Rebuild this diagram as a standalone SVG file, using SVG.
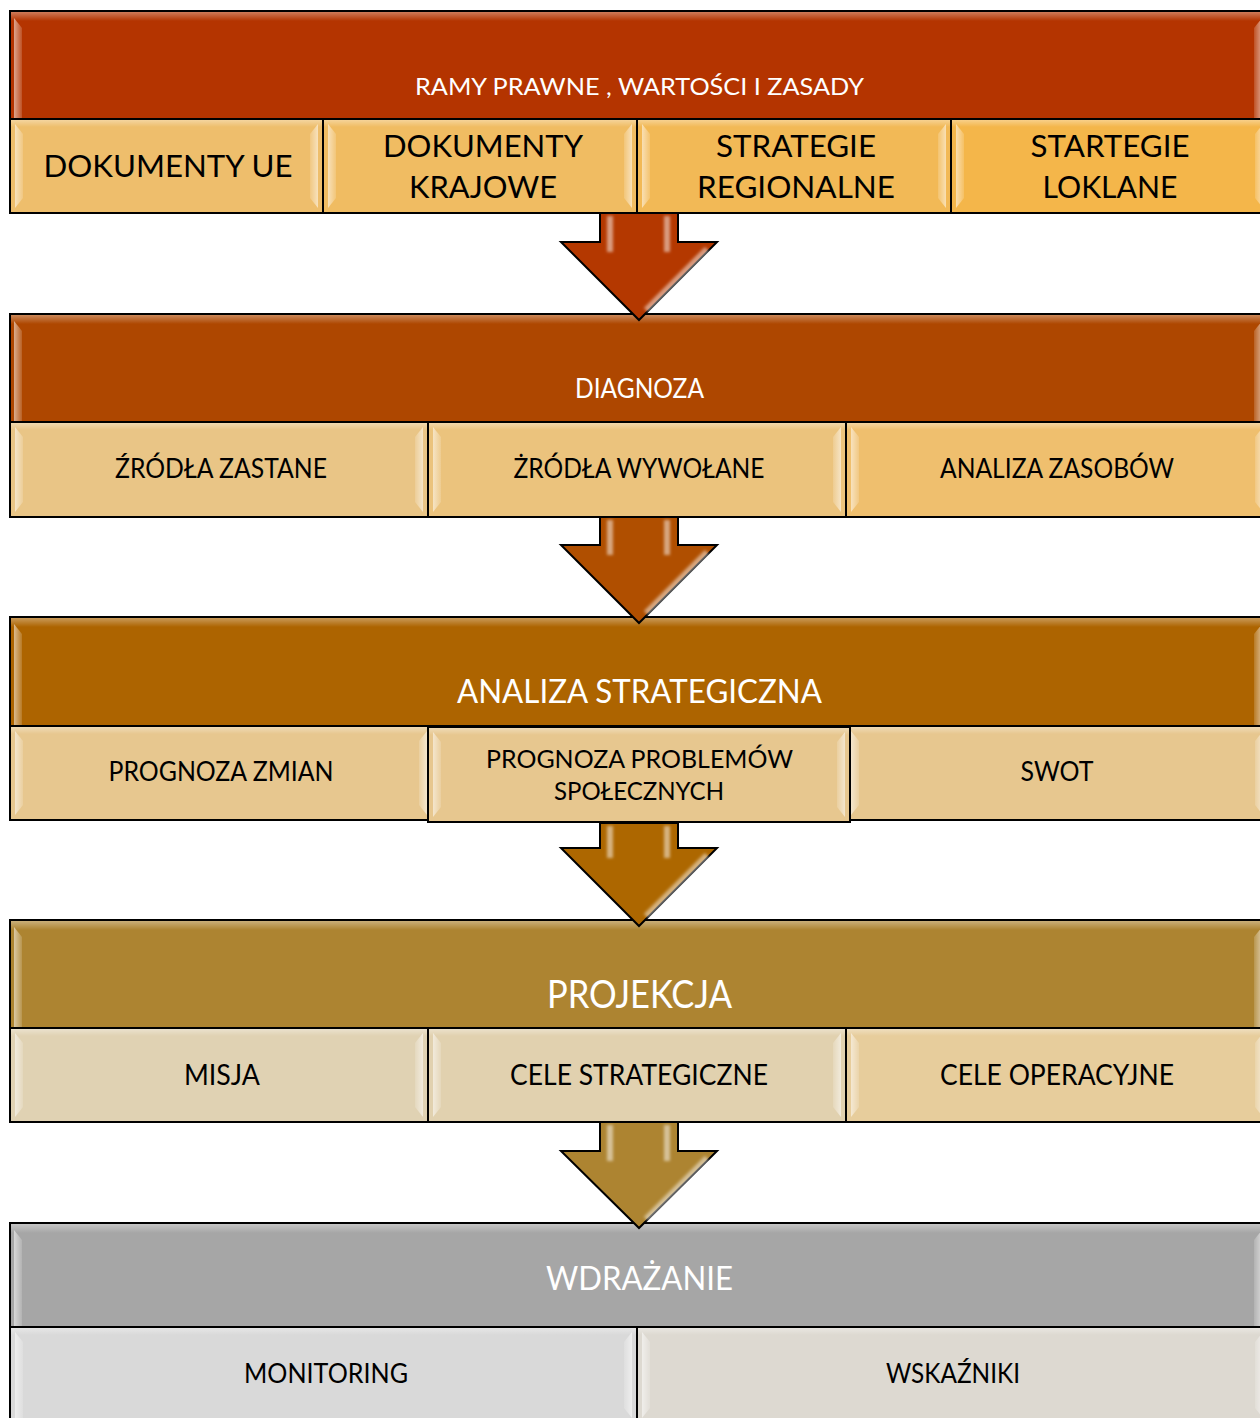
<svg xmlns="http://www.w3.org/2000/svg" width="1260" height="1418" viewBox="0 0 1260 1418">
<style>
text{font-family:Lato,"Open Sans","Liberation Sans",sans-serif;text-anchor:middle}
.hd{fill:#fff}
.sb{fill:#000}
.box{stroke:#000;stroke-width:2}
.hl{fill:url(#hlg)}
.hlr{fill:url(#hlgr)}
.top{fill:url(#topg)}
.arr{stroke:#000;stroke-width:2;stroke-linejoin:miter}
.ash{stroke:#fff;stroke-opacity:.5;stroke-width:6;fill:none;filter:url(#bl)}
</style>
<defs>
<linearGradient id="hlg" x1="0" y1="0" x2="1" y2="0">
<stop offset="0" stop-color="#fff" stop-opacity=".55"/>
<stop offset="1" stop-color="#fff" stop-opacity=".15"/>
</linearGradient>
<linearGradient id="hlgr" x1="1" y1="0" x2="0" y2="0">
<stop offset="0" stop-color="#fff" stop-opacity=".55"/>
<stop offset="1" stop-color="#fff" stop-opacity=".15"/>
</linearGradient>
<linearGradient id="topg" x1="0" y1="0" x2="0" y2="1">
<stop offset="0" stop-color="#fff" stop-opacity=".35"/>
<stop offset="1" stop-color="#fff" stop-opacity="0"/>
</linearGradient>
<filter id="bl" filterUnits="userSpaceOnUse" x="0" y="0" width="1260" height="1418"><feGaussianBlur stdDeviation="1.8"/></filter>
</defs>

<!-- Block 1 -->
<g id="ramy">
<rect class="box" x="10" y="11" width="1258" height="108" fill="#B43400"/>
<rect class="top" x="11" y="12" width="1256" height="9"/>
<polygon class="hl" points="14,18 22,28 22,118 14,118"/>
<polygon class="hlr" points="1262,18 1254,28 1254,118 1262,118"/>
<text class="hd" x="639.5" y="95" font-size="24" textLength="449" lengthAdjust="spacingAndGlyphs">RAMY PRAWNE , WARTOŚCI I ZASADY</text>
</g>
<g id="dok-ue">
<rect class="box" x="10" y="119" width="313" height="94" fill="#EEBE6C"/>
<rect class="top" x="11" y="120" width="311" height="7"/>
<polygon class="hl" points="15,124 23,134 23,198 15,208"/>
<polygon class="hlr" points="318,124 310,134 310,198 318,208"/>
<text class="sb" x="168" y="177" font-size="30" textLength="249" lengthAdjust="spacingAndGlyphs">DOKUMENTY UE</text>
</g>
<g id="dok-kraj">
<rect class="box" x="323" y="119" width="314" height="94" fill="#F0BC62"/>
<rect class="top" x="324" y="120" width="312" height="7"/>
<polygon class="hl" points="328,124 336,134 336,198 328,208"/>
<polygon class="hlr" points="632,124 624,134 624,198 632,208"/>
<text class="sb" x="483" y="157" font-size="31" textLength="200" lengthAdjust="spacingAndGlyphs">DOKUMENTY</text>
<text class="sb" x="483" y="198" font-size="31" textLength="148" lengthAdjust="spacingAndGlyphs">KRAJOWE</text>
</g>
<g id="str-reg">
<rect class="box" x="637" y="119" width="314" height="94" fill="#F2B956"/>
<rect class="top" x="638" y="120" width="312" height="7"/>
<polygon class="hl" points="642,124 650,134 650,198 642,208"/>
<polygon class="hlr" points="946,124 938,134 938,198 946,208"/>
<text class="sb" x="796" y="157" font-size="31" textLength="160" lengthAdjust="spacingAndGlyphs">STRATEGIE</text>
<text class="sb" x="796" y="198" font-size="31" textLength="198" lengthAdjust="spacingAndGlyphs">REGIONALNE</text>
</g>
<g id="str-lok">
<rect class="box" x="951" y="119" width="317" height="94" fill="#F4B64A"/>
<rect class="top" x="952" y="120" width="315" height="7"/>
<polygon class="hl" points="956,124 964,134 964,198 956,208"/>
<polygon class="hlr" points="1263,124 1255,134 1255,198 1263,208"/>
<text class="sb" x="1110" y="157" font-size="31" textLength="159" lengthAdjust="spacingAndGlyphs">STARTEGIE</text>
<text class="sb" x="1110" y="198" font-size="31" textLength="135" lengthAdjust="spacingAndGlyphs">LOKLANE</text>
</g>

<!-- Block 2 -->
<g id="diagnoza">
<rect class="box" x="10" y="314" width="1258" height="108" fill="#AE4700"/>
<rect class="top" x="11" y="315" width="1256" height="9"/>
<polygon class="hl" points="14,321 22,331 22,421 14,421"/>
<polygon class="hlr" points="1262,321 1254,331 1254,421 1262,421"/>
<text class="hd" x="639.5" y="398" font-size="26" textLength="129" lengthAdjust="spacingAndGlyphs">DIAGNOZA</text>
</g>
<g id="zr-zast">
<rect class="box" x="10" y="422" width="418" height="95" fill="#E9C586"/>
<rect class="top" x="11" y="423" width="416" height="7"/>
<polygon class="hl" points="15,427 23,437 23,502 15,512"/>
<polygon class="hlr" points="423,427 415,437 415,502 423,512"/>
<text class="sb" x="221" y="478" font-size="26" textLength="212" lengthAdjust="spacingAndGlyphs">ŹRÓDŁA ZASTANE</text>
</g>
<g id="zr-wyw">
<rect class="box" x="428" y="422" width="418" height="95" fill="#EBC37D"/>
<rect class="top" x="429" y="423" width="416" height="7"/>
<polygon class="hl" points="433,427 441,437 441,502 433,512"/>
<polygon class="hlr" points="841,427 833,437 833,502 841,512"/>
<text class="sb" x="639" y="478" font-size="26" textLength="251" lengthAdjust="spacingAndGlyphs">ŻRÓDŁA WYWOŁANE</text>
</g>
<g id="an-zas">
<rect class="box" x="846" y="422" width="422" height="95" fill="#EFBF6E"/>
<rect class="top" x="847" y="423" width="420" height="7"/>
<polygon class="hl" points="851,427 859,437 859,502 851,512"/>
<polygon class="hlr" points="1263,427 1255,437 1255,502 1263,512"/>
<text class="sb" x="1057" y="478" font-size="26" textLength="234" lengthAdjust="spacingAndGlyphs">ANALIZA ZASOBÓW</text>
</g>

<!-- Block 3 -->
<g id="analiza">
<rect class="box" x="10" y="617" width="1258" height="109" fill="#AD6400"/>
<rect class="top" x="11" y="618" width="1256" height="9"/>
<polygon class="hl" points="14,624 22,634 22,725 14,725"/>
<polygon class="hlr" points="1262,624 1254,634 1254,725 1262,725"/>
<text class="hd" x="639.5" y="703" font-size="32" textLength="365" lengthAdjust="spacingAndGlyphs">ANALIZA STRATEGICZNA</text>
</g>
<g id="progn-zm">
<rect class="box" x="10" y="726" width="422" height="94" fill="#E7C78F"/>
<rect class="top" x="11" y="727" width="420" height="7"/>
<polygon class="hl" points="15,731 23,741 23,805 15,815"/>
<polygon class="hlr" points="427,731 419,741 419,805 427,815"/>
<text class="sb" x="221" y="781" font-size="26" textLength="225" lengthAdjust="spacingAndGlyphs">PROGNOZA ZMIAN</text>
</g>
<g id="swot">
<rect class="box" x="846" y="726" width="422" height="94" fill="#E7C78F"/>
<rect class="top" x="847" y="727" width="420" height="7"/>
<polygon class="hl" points="851,731 859,741 859,805 851,815"/>
<polygon class="hlr" points="1263,731 1255,741 1255,805 1263,815"/>
<text class="sb" x="1057" y="781" font-size="26" textLength="73" lengthAdjust="spacingAndGlyphs">SWOT</text>
</g>
<g id="progn-probl">
<rect class="box" x="428" y="727" width="422" height="95" fill="#E7C78F"/>
<rect class="top" x="429" y="728" width="420" height="7"/>
<polygon class="hl" points="433,732 441,742 441,807 433,817"/>
<polygon class="hlr" points="845,732 837,742 837,807 845,817"/>
<text class="sb" x="639.5" y="768" font-size="25" textLength="307" lengthAdjust="spacingAndGlyphs">PROGNOZA PROBLEMÓW</text>
<text class="sb" x="639" y="800" font-size="25" textLength="170" lengthAdjust="spacingAndGlyphs">SPOŁECZNYCH</text>
</g>

<!-- Block 4 -->
<g id="projekcja">
<rect class="box" x="10" y="920" width="1258" height="108" fill="#AD8431"/>
<rect class="top" x="11" y="921" width="1256" height="9"/>
<polygon class="hl" points="14,927 22,937 22,1027 14,1027"/>
<polygon class="hlr" points="1262,927 1254,937 1254,1027 1262,1027"/>
<text class="hd" x="639.5" y="1008" font-size="38" textLength="185" lengthAdjust="spacingAndGlyphs">PROJEKCJA</text>
</g>
<g id="misja">
<rect class="box" x="10" y="1028" width="418" height="94" fill="#E0D2B3"/>
<rect class="top" x="11" y="1029" width="416" height="7"/>
<polygon class="hl" points="15,1033 23,1043 23,1107 15,1117"/>
<polygon class="hlr" points="423,1033 415,1043 415,1107 423,1117"/>
<text class="sb" x="222" y="1085" font-size="28" textLength="76" lengthAdjust="spacingAndGlyphs">MISJA</text>
</g>
<g id="cele-str">
<rect class="box" x="428" y="1028" width="418" height="94" fill="#E1D1AF"/>
<rect class="top" x="429" y="1029" width="416" height="7"/>
<polygon class="hl" points="433,1033 441,1043 441,1107 433,1117"/>
<polygon class="hlr" points="841,1033 833,1043 833,1107 841,1117"/>
<text class="sb" x="639" y="1085" font-size="28" textLength="258" lengthAdjust="spacingAndGlyphs">CELE STRATEGICZNE</text>
</g>
<g id="cele-op">
<rect class="box" x="846" y="1028" width="422" height="94" fill="#E7CD9C"/>
<rect class="top" x="847" y="1029" width="420" height="7"/>
<polygon class="hl" points="851,1033 859,1043 859,1107 851,1117"/>
<polygon class="hlr" points="1263,1033 1255,1043 1255,1107 1263,1117"/>
<text class="sb" x="1057" y="1085" font-size="28" textLength="234" lengthAdjust="spacingAndGlyphs">CELE OPERACYJNE</text>
</g>

<!-- Block 5 -->
<g id="wdrazanie">
<rect class="box" x="10" y="1223" width="1258" height="104" fill="#A6A6A6"/>
<rect class="top" x="11" y="1224" width="1256" height="9"/>
<polygon class="hl" points="14,1230 22,1240 22,1326 14,1326"/>
<polygon class="hlr" points="1262,1230 1254,1240 1254,1326 1262,1326"/>
<text class="hd" x="639.5" y="1290" font-size="32" textLength="187" lengthAdjust="spacingAndGlyphs">WDRAŻANIE</text>
</g>
<g id="monitoring">
<rect class="box" x="10" y="1327" width="627" height="96" fill="#D9D9D9"/>
<rect class="top" x="11" y="1328" width="625" height="7"/>
<polygon class="hl" points="15,1332 23,1342 23,1418 15,1418"/>
<polygon class="hlr" points="632,1332 624,1342 624,1408 632,1418"/>
<text class="sb" x="326" y="1383" font-size="27" textLength="164" lengthAdjust="spacingAndGlyphs">MONITORING</text>
</g>
<g id="wskazniki">
<rect class="box" x="637" y="1327" width="631" height="96" fill="#DDD9D1"/>
<rect class="top" x="638" y="1328" width="629" height="7"/>
<polygon class="hl" points="642,1332 650,1342 650,1408 642,1418"/>
<polygon class="hlr" points="1263,1332 1255,1342 1255,1408 1263,1418"/>
<text class="sb" x="953" y="1383" font-size="27" textLength="134" lengthAdjust="spacingAndGlyphs">WSKAŹNIKI</text>
</g>

<!-- Connectors -->
<g id="connectors">
<g>
<polygon class="arr" fill="#B43800" points="600,213 678,213 678,242 717,242 639,320 561,242 600,242"/>
<line class="ash" x1="610" y1="216" x2="610" y2="252"/>
<line class="ash" x1="667" y1="216" x2="667" y2="252"/>
<line class="ash" x1="707" y1="249" x2="646" y2="310"/>
</g>
<g>
<polygon class="arr" fill="#B04F00" points="600,517 678,517 678,545 717,545 639,623 561,545 600,545"/>
<line class="ash" x1="610" y1="520" x2="610" y2="555"/>
<line class="ash" x1="667" y1="520" x2="667" y2="555"/>
<line class="ash" x1="707" y1="552" x2="646" y2="613"/>
</g>
<g>
<polygon class="arr" fill="#AD6700" points="600,823 678,823 678,848 717,848 639,926 561,848 600,848"/>
<line class="ash" x1="610" y1="826" x2="610" y2="858"/>
<line class="ash" x1="667" y1="826" x2="667" y2="858"/>
<line class="ash" x1="707" y1="855" x2="646" y2="916"/>
</g>
<g>
<polygon class="arr" fill="#AD8431" points="600,1122 678,1122 678,1151 717,1151 639,1228 561,1151 600,1151"/>
<line class="ash" x1="610" y1="1125" x2="610" y2="1161"/>
<line class="ash" x1="667" y1="1125" x2="667" y2="1161"/>
<line class="ash" x1="707" y1="1158" x2="646" y2="1219"/>
</g>
</g>
</svg>
